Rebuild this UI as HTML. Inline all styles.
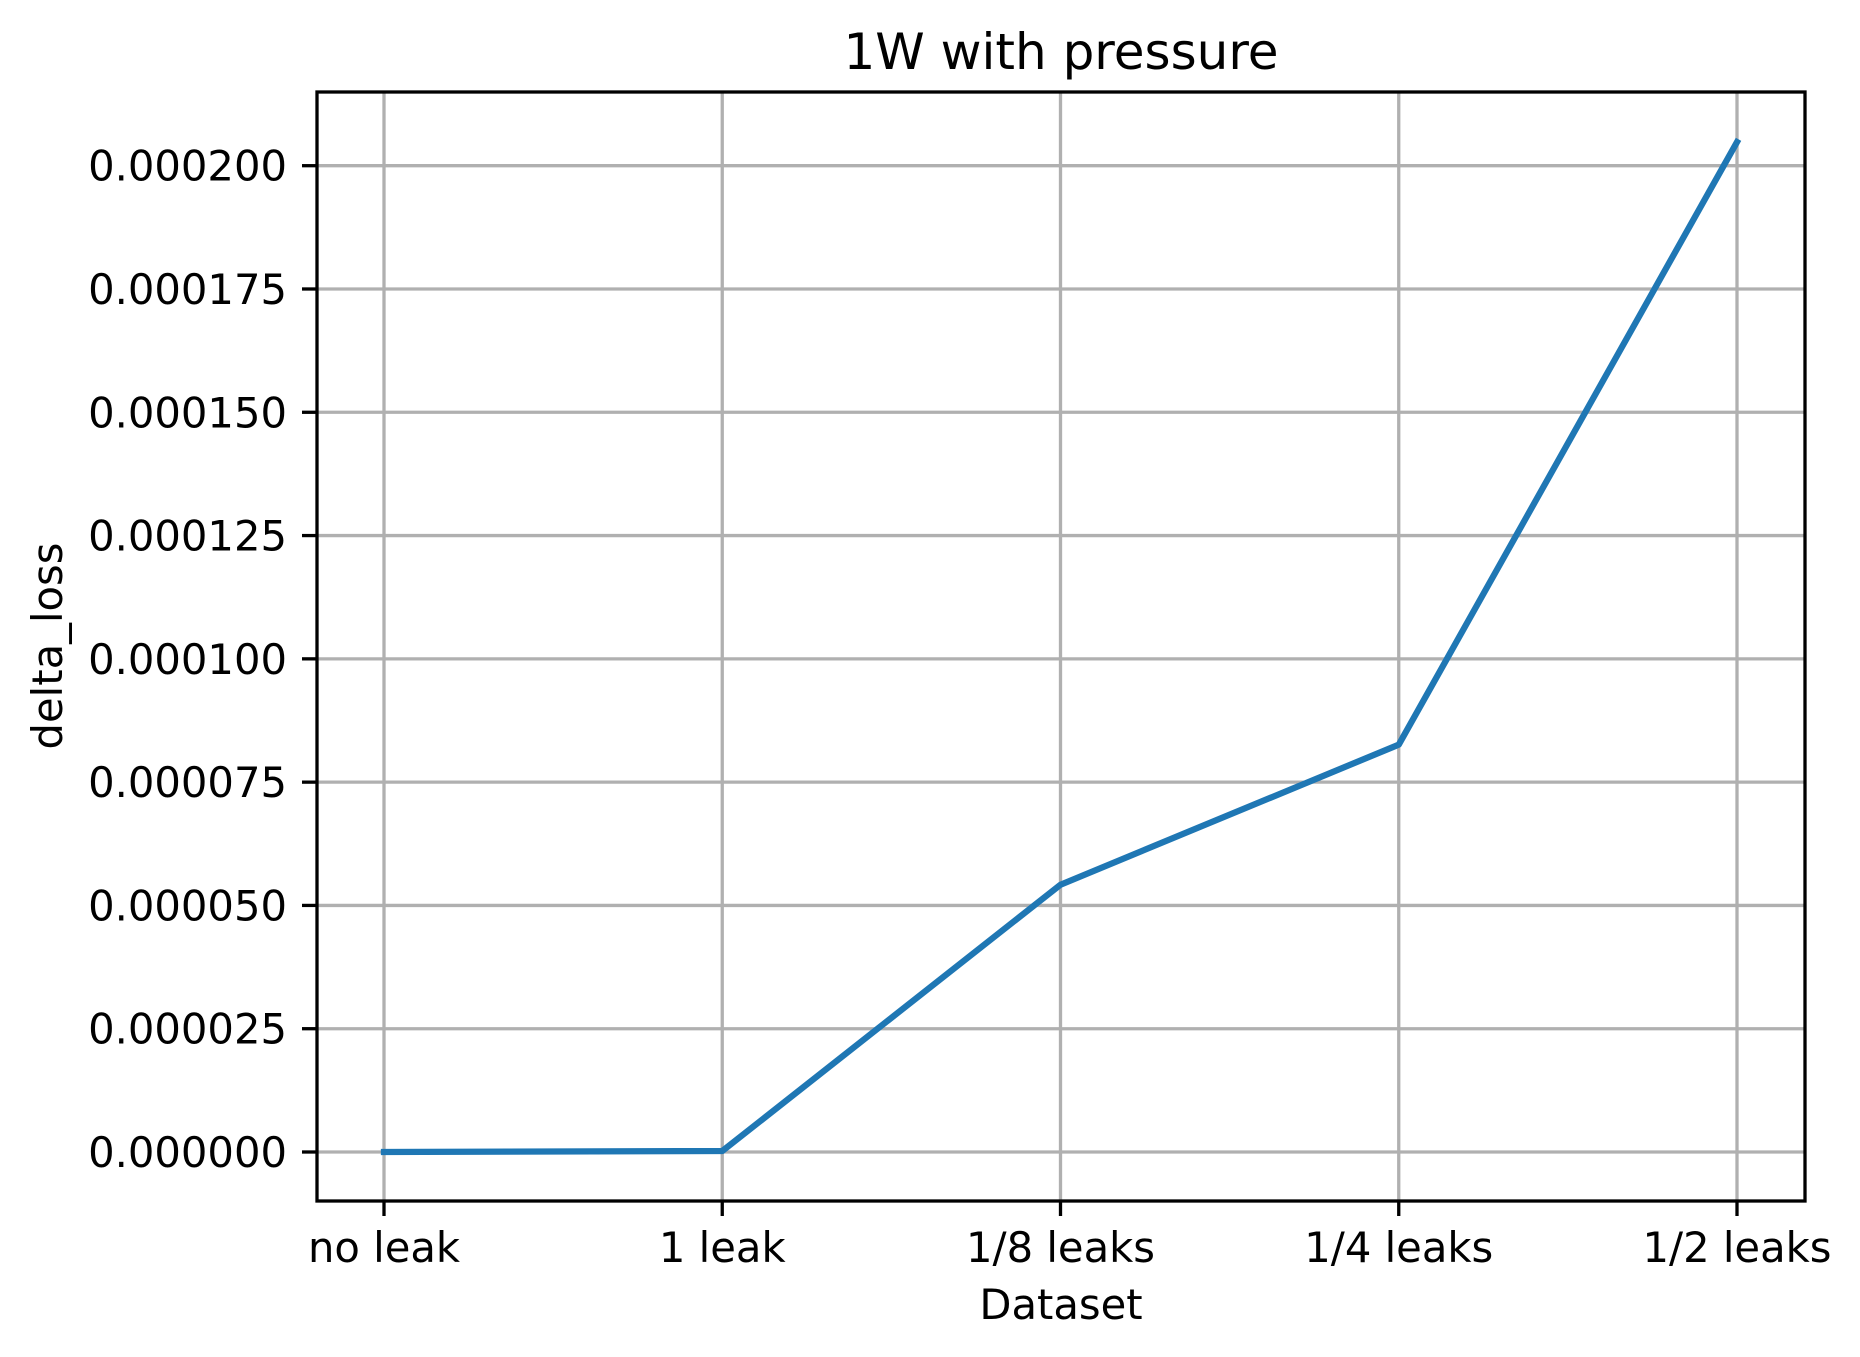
<!DOCTYPE html>
<html><head><meta charset="utf-8"><style>body{margin:0;background:#fff}svg{display:block}</style></head>
<body>
<svg width="1860" height="1357" xmlns="http://www.w3.org/2000/svg" font-family="'DejaVu Sans','Liberation Sans',sans-serif">
<g id="grid"></g>
<g id="ticks"></g>
<polyline id="line" fill="none" stroke="#1f77b4" stroke-width="6.25" stroke-linejoin="round" stroke-linecap="square"/>
<rect x="317" y="92" width="1488" height="1109" fill="none" stroke="#000" stroke-width="3.3"/>
<text x="1061" y="69" font-size="50" text-anchor="middle">1W with pressure</text>
<text x="1061" y="1319" font-size="41.7" text-anchor="middle">Dataset</text>
<text x="0" y="0" font-size="41.7" text-anchor="middle" transform="translate(62,646) rotate(-90)">delta_loss</text>
</svg>
<script>
const categories = ["no leak","1 leak","1/8 leaks","1/4 leaks","1/2 leaks"];
const values = [0, 0.2e-6, 54.2e-6, 82.6e-6, 204.8e-6];
const yTicks = [0, 25e-6, 50e-6, 75e-6, 100e-6, 125e-6, 150e-6, 175e-6, 200e-6];
const yTickLabels = ["0.000000","0.000025","0.000050","0.000075","0.000100","0.000125","0.000150","0.000175","0.000200"];
const NS="http://www.w3.org/2000/svg";
function xPos(i){return 384+i*(1737-384)/4;}
function yPos(v){return 1152-v*(1152-165.7)/200e-6;}
const grid=document.getElementById('grid'), ticks=document.getElementById('ticks');
function mk(tag,attrs,parent){const e=document.createElementNS(NS,tag);for(const k in attrs)e.setAttribute(k,attrs[k]);parent.appendChild(e);return e;}
categories.forEach((c,i)=>{
  const x=xPos(i);
  const g=mk('line',{x1:x,x2:x,y1:92,y2:1201,stroke:'#b0b0b0','stroke-width':3.3},grid);
  
  
  const t=mk('line',{x1:x,x2:x,y1:1201,y2:1216,stroke:'#000','stroke-width':3.3},ticks);
  
  
  const l=mk('text',{x:x,y:1262,'font-size':41.7,'text-anchor':'middle'},ticks);
  l.textContent=c;
  
  
});
yTicks.forEach((v,i)=>{
  const y=yPos(v);
  const g=mk('line',{x1:317,x2:1805,y1:y,y2:y,stroke:'#b0b0b0','stroke-width':3.3},grid);
  
  
  const t=mk('line',{x1:302,x2:317,y1:y,y2:y,stroke:'#000','stroke-width':3.3},ticks);
  
  
  const l=mk('text',{x:287,y:y+15,'font-size':41.7,'text-anchor':'end'},ticks);
  l.textContent=yTickLabels[i];
  
  
});
document.getElementById('line').setAttribute('points',values.map((v,i)=>xPos(i)+','+yPos(v)).join(' '));
</script>
</body></html>
